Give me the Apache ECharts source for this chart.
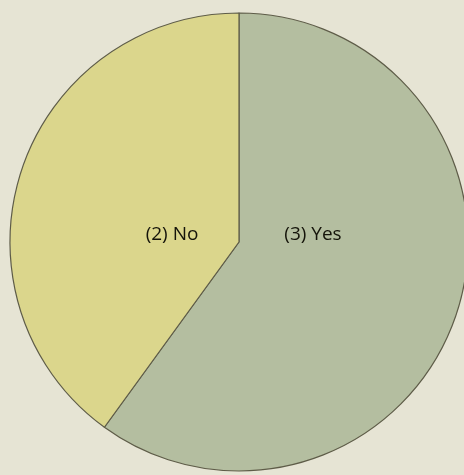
<!DOCTYPE html>
<html>
<head>
<meta charset="utf-8">
<script src="https://cdn.jsdelivr.net/npm/echarts@6/dist/echarts.min.js"></script>
<style>
html,body{margin:0;padding:0;background:#e6e4d4;}
#c{width:464px;height:475px;}
</style>
</head>
<body>
<div id="c"></div>
<script>
const categories = ["(3) Yes", "(2) No"];
const values = [3, 2];
const colors = ["#b4bea0", "#dbd68c"];
const labelOffsets = [[74, -7], [-67, -7]];

const chart = echarts.init(document.getElementById('c'), null, {renderer: 'canvas'});
chart.setOption({
  backgroundColor: '#e6e4d4',
  animation: false,
  series: [{
    type: 'pie',
    center: [239, 242],
    radius: [0, 229],
    startAngle: 90,
    clockwise: true,
    silent: true,
    itemStyle: {borderColor: '#5e5c48', borderWidth: 1.2},
    label: {
      show: true,
      position: 'center',
      formatter: '{b}',
      fontFamily: 'Open Sans',
      fontSize: 19,
      color: '#15140a'
    },
    labelLine: {show: false},
    data: categories.map((c, i) => ({
      name: c,
      value: values[i],
      itemStyle: {color: colors[i]},
      label: {offset: labelOffsets[i]}
    }))
  }]
});
</script>
</body>
</html>
